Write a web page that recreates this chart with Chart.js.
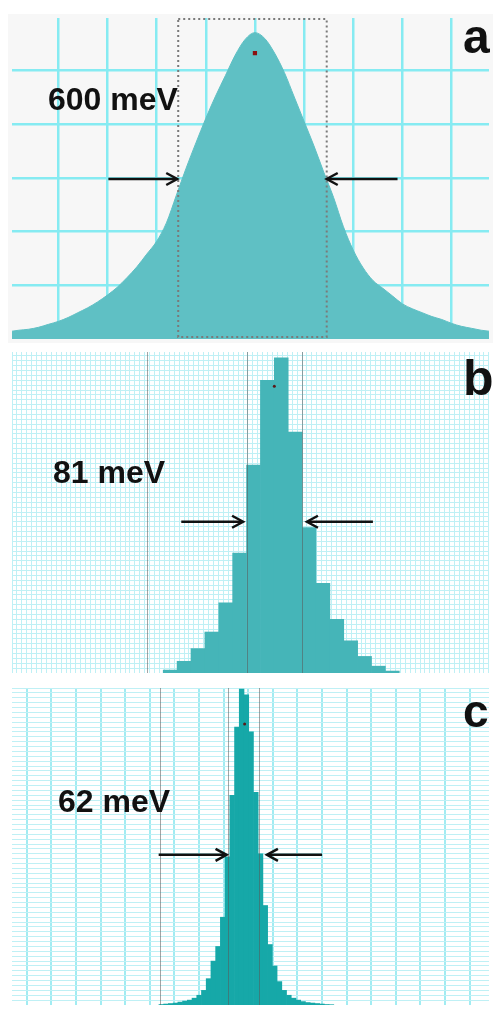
<!DOCTYPE html>
<html>
<head>
<meta charset="utf-8">
<script src="https://cdn.jsdelivr.net/npm/chart.js@4.4.1/dist/chart.umd.min.js"></script>
<style>
  body { margin: 0; background: #fff; width: 493px; height: 1009px; position: relative; overflow: hidden; }
  .panel { position: absolute; left: 8px; width: 485px; }
  #pa { top: 14px; height: 329px; background: #f7f7f7; }
  #pb { top: 348px; height: 329px; background: #fff; }
  #pc { top: 684px; height: 325px; background: #fff; }
</style>
</head>
<body>
<div class="panel" id="pa"><canvas id="chartA" width="485" height="329"></canvas></div>
<div class="panel" id="pb"><canvas id="chartB" width="485" height="329"></canvas></div>
<div class="panel" id="pc"><canvas id="chartC" width="485" height="325"></canvas></div>
<script>
// panel a: broad peak, energy offset (meV) vs intensity
const energyA = [-988, -960, -920, -880, -840, -800, -760, -720, -680, -640, -600, -560, -520, -480, -440, -400,
  -360, -320, -280, -240, -200, -160, -120, -80, -40, 0, 40, 80, 120, 160, 200, 240, 280, 320, 360, 400,
  440, 480, 520, 560, 600, 640, 680, 720, 760, 800, 840, 880, 920, 952];
const countsA = [8, 9, 10, 12, 15, 18, 22, 27, 32, 38, 45, 53, 63, 74, 87, 100,
  119, 147, 175, 201, 226, 249, 270, 291, 307, 314, 308, 293, 273, 248, 223, 198, 171, 145, 115, 91,
  73, 60, 52, 44, 36, 31, 27, 23, 20, 16, 13, 11, 9, 8];

// panel b: histogram channels
const channelsB = [0, 1, 2, 3, 4, 5, 6, 7, 8, 9, 10, 11, 12, 13, 14, 15, 16];
const countsB = [3, 12, 25, 42, 72, 123, 213, 300, 323, 247, 149, 92, 55, 33, 17, 7, 2];

// panel c: narrow histogram channels
const channelsC = [-17, -16, -15, -14, -13, -12, -11, -10, -9, -8, -7, -6, -5, -4, -3, -2, -1, 0,
  1, 2, 3, 4, 5, 6, 7, 8, 9, 10, 11, 12, 13, 14, 15, 16, 17, 18, 19];
const countsC = [0.5, 1, 1.5, 2, 3, 4, 5, 7, 10, 15, 27, 45, 60, 90, 152, 215, 285, 324,
  318, 280, 218, 155, 102, 62, 40, 24, 15, 10, 7, 5, 3.5, 2.5, 2, 1.5, 1, 0.5, 0.3];

const fwhmText = ['600 meV', '81 meV', '62 meV'];
const panelTags = ['a', 'b', 'c'];
// half-max arrows: [left tail, left tip, right tip, right tail], level
const arrowsA = [-596, -316, 292, 580], levelA = 164;
const arrowsB = [0.8, 5.25, 9.85, 14.6], levelB = 155;
const arrowsC = [-17.56, -3.19, 5.35, 17.02], levelC = 154;
const boxA = [-312, 292];
const markLinesB = [-1.7, 5.5, 9.5];
const markLinesC = [-17.35, -2.98, 3.69];
const peakA = [0, 293], peakB = [7.5, 294], peakC = [0.63, 288];

function steps(from, to, step) {
  const out = [];
  for (let v = from; v <= to + 1e-9; v += step) out.push(v);
  return out;
}

function gridAxis(min, max, tickVals, color, width, axis) {
  return {
    type: 'linear', min: min, max: max, offset: false, axis: axis,
    border: { display: false },
    ticks: { display: false },
    grid: { color: color, lineWidth: width, drawTicks: false, offset: false },
    afterBuildTicks: s => { s.ticks = tickVals.map(v => ({ value: v })); }
  };
}

function plainAxis(min, max) {
  return { type: 'linear', min: min, max: max, offset: false, display: false };
}

const overlay = {
  id: 'overlay',
  afterDatasetsDraw(chart, args, o) {
    const { ctx, chartArea, scales: { x, y } } = chart;
    ctx.save();
    (o.lines || []).forEach(v => {
      const px = Math.round(x.getPixelForValue(v)) + 0.5;
      ctx.strokeStyle = 'rgba(90,90,90,0.55)';
      ctx.lineWidth = 1;
      ctx.beginPath(); ctx.moveTo(px, chartArea.top); ctx.lineTo(px, chartArea.bottom); ctx.stroke();
    });
    if (o.box) {
      const x0 = x.getPixelForValue(o.box[0]), x1 = x.getPixelForValue(o.box[1]);
      ctx.strokeStyle = '#7a7a7a';
      ctx.lineWidth = 2;
      ctx.setLineDash([2, 3]);
      ctx.strokeRect(x0, chartArea.top + 1, x1 - x0, chartArea.bottom - chartArea.top - 3);
      ctx.setLineDash([]);
    }
    if (o.arrows) {
      const yy = y.getPixelForValue(o.level);
      const a = o.arrows.map(v => x.getPixelForValue(v));
      ctx.strokeStyle = '#111';
      ctx.lineWidth = 2.5;
      [[a[0], a[1]], [a[3], a[2]]].forEach(([from, to]) => {
        const d = to > from ? 1 : -1;
        ctx.beginPath(); ctx.moveTo(from, yy); ctx.lineTo(to - d * 2, yy); ctx.stroke();
        ctx.beginPath();
        ctx.moveTo(to - d * 11, yy - 6); ctx.lineTo(to, yy); ctx.lineTo(to - d * 11, yy + 6);
        ctx.stroke();
      });
    }
    ctx.fillStyle = '#111';
    ctx.font = 'bold 32px "Liberation Sans", Arial, sans-serif';
    ctx.fillText(o.text, o.textPos[0], o.textPos[1]);
    ctx.font = 'bold ' + o.tagSize + 'px "Liberation Sans", Arial, sans-serif';
    ctx.fillText(o.tag, o.tagPos[0], o.tagPos[1]);
    ctx.restore();
  }
};

Chart.register(overlay);

// panel a
new Chart(document.getElementById('chartA'), {
  type: 'line',
  data: {
    datasets: [
      { data: [{ x: peakA[0], y: peakA[1] }], showLine: false, pointStyle: 'rect', pointRadius: 3,
        backgroundColor: '#8a1212', borderColor: '#8a1212', borderWidth: 0 },
      { data: energyA.map((e, i) => ({ x: e, y: countsA[i] })), fill: 'origin', pointRadius: 0,
        borderWidth: 1, borderColor: '#5fc0c4', backgroundColor: '#5fc0c4', cubicInterpolationMode: 'monotone' }
    ]
  },
  options: {
    responsive: false, animation: false, layout: { padding: 0 },
    plugins: { legend: { display: false }, tooltip: { enabled: false },
      overlay: { box: boxA, arrows: arrowsA, level: levelA, text: fwhmText[0], textPos: [40, 96],
        tag: panelTags[0], tagSize: 48, tagPos: [455, 39] } },
    scales: {
      x: gridAxis(-988, 952, steps(-800, 800, 200), '#86ebf2', 2.5),
      y: gridAxis(0, 329, steps(55, 275, 55), '#86ebf2', 2.5)
    }
  }
});

function histogram(id, channels, counts, color, peak, xMin, xMax, xGrid, xGridColor, xGridWidth, yMax, over) {
  return new Chart(document.getElementById(id), {
    type: 'bar',
    data: {
      datasets: [
        { type: 'line', xAxisID: 'x', yAxisID: 'y', data: [{ x: peak[0], y: peak[1] }], showLine: false,
          pointStyle: 'circle', pointRadius: 1.5, backgroundColor: '#5a1a1a', borderColor: '#5a1a1a', borderWidth: 0 },
        { xAxisID: 'x', yAxisID: 'y', data: channels.map((c, i) => ({ x: c, y: counts[i] })),
          backgroundColor: color, borderWidth: 0, barPercentage: 1, categoryPercentage: 1 }
      ]
    },
    options: {
      responsive: false, animation: false, layout: { padding: 0 },
      plugins: { legend: { display: false }, tooltip: { enabled: false }, overlay: over },
      scales: {
        x: plainAxis(xMin, xMax),
        y: plainAxis(0, yMax),
        xg: gridAxis(xMin, xMax, xGrid, xGridColor, xGridWidth, 'x'),
        yg: gridAxis(0, yMax, steps(5, yMax, 5), '#bff0f5', 1, 'y')
      }
    }
  });
}

// panel b
histogram('chartB', channelsB, countsB, '#45b5b8', peakB, -11.39, 22.96, steps(-11.39, 22.96, 0.354), '#bff0f5', 1, 329,
  { lines: markLinesB, arrows: arrowsB, level: levelB, text: fwhmText[1], textPos: [45, 135],
    tag: panelTags[1], tagSize: 50, tagPos: [455, 47] });

// panel c
histogram('chartC', channelsC, countsC, '#16a8a8', peakC, -48.6, 52.35, steps(-45.48, 52.35, 5.208), '#a2ecf2', 2, 325,
  { lines: markLinesC, arrows: arrowsC, level: levelC, text: fwhmText[2], textPos: [50, 128],
    tag: panelTags[2], tagSize: 46, tagPos: [455, 43] });
</script>
</body>
</html>
